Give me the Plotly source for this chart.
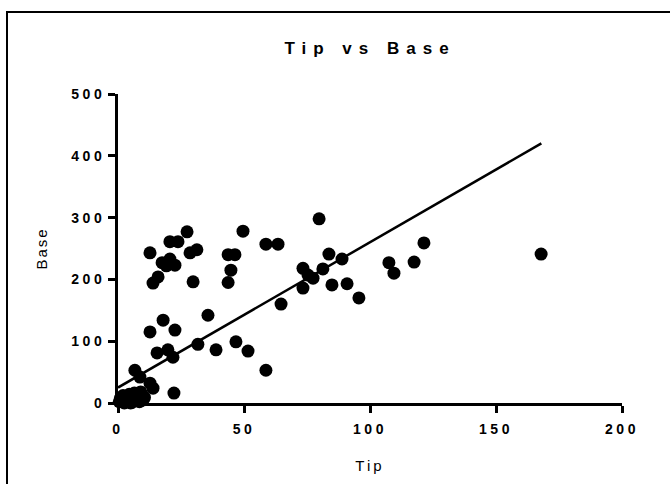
import plotly.graph_objects as go

# Data (Tip vs Base)
tip = [
    27.4, 20.6, 23.8, 12.7, 31.3, 28.6, 17.5, 20.6, 22.6, 19.2, 13.9, 15.9, 29.8,
    17.9, 12.7, 22.6, 35.7, 15.5, 19.8, 21.8, 31.7, 38.9, 46.8, 51.6, 58.7,
    6.7, 8.7, 12.7, 13.9, 22.2,
    49.6, 58.7, 63.5, 43.7, 46.4, 44.8, 43.7, 79.8, 83.7, 88.9, 73.4, 75.4, 77.4,
    81.3, 73.4, 84.9, 90.9, 95.6, 64.7, 107.5, 109.5, 117.5, 121.4, 167.9,
    0.5, 1.5, 2.5, 3.0, 4.0, 4.5, 5.5, 6.0, 7.0, 7.5, 8.5, 9.0, 2.0, 5.0, 3.5, 8.0, 10.0,
    9.5, 10.5, 1.0, 6.5,
]
base = [
    277, 261, 261, 243, 248, 243, 227, 233, 223, 222, 194, 204, 196,
    134, 115, 118, 142, 81, 86, 74, 95, 86, 99, 84, 53,
    53, 42, 32, 24, 16,
    278, 257, 257, 240, 240, 215, 195, 298, 241, 233, 218, 207, 202,
    217, 186, 191, 193, 170, 160, 227, 210, 228, 259, 241,
    2, 6, 0, 10, 3, 14, 1, 8, 4, 12, 2, 18, 12, 0, 6, 9, 5,
    14, 9, 8, 16,
]

fit_x = [0, 168]
fit_y = [25, 420]

x_ticks = [0, 50, 100, 150, 200]
x_labels = ["0", "50", "100", "150", "200"]
y_ticks = [0, 100, 200, 300, 400, 500]
y_labels = ["0", "100", "200", "300", "400", "500"]

title_text = "Tip vs Base"
x_title = "Tip"
y_title = "Base"


def spaced(s, ls):
    return f"<span style='letter-spacing:{ls}px'>{s}</span>"


FONT = "Liberation Sans, Arial, sans-serif"
tickfont = dict(family=FONT, size=14, color="black", weight="bold")

fig = go.Figure()
fig.add_trace(go.Scatter(
    x=tip, y=base, mode="markers",
    marker=dict(size=13, color="black", line=dict(width=0)),
    cliponaxis=False, showlegend=False,
))
fig.add_trace(go.Scatter(
    x=fit_x, y=fit_y, mode="lines",
    line=dict(color="black", width=2.5),
    cliponaxis=False, showlegend=False,
))

fig.update_layout(
    width=670, height=484,
    margin=dict(l=118, r=48, t=94, b=81),
    paper_bgcolor="white", plot_bgcolor="white",
    title=dict(text=spaced(title_text, 7), x=0.5, xanchor="center",
               xref="paper", y=1 - 48 / 484, yanchor="middle",
               font=dict(family=FONT, size=17, color="black", weight="bold")),
    font=dict(family=FONT, color="black"),
    xaxis=dict(range=[0, 200], tickvals=x_ticks,
               ticktext=[spaced(t, 3.5) for t in x_labels],
               showgrid=False, zeroline=False,
               showline=True, linecolor="black", linewidth=3,
               ticks="outside", ticklen=7, tickwidth=3, tickcolor="black",
               tickfont=tickfont, ticklabelstandoff=4,
               title=dict(text=spaced(x_title, 3), font=dict(size=15, color="black"), standoff=25)),
    yaxis=dict(range=[0, 500], tickvals=y_ticks,
               ticktext=[spaced(t, 3.5) for t in y_labels],
               showgrid=False, zeroline=False,
               showline=True, linecolor="black", linewidth=3,
               ticks="outside", ticklen=7, tickwidth=3, tickcolor="black",
               tickfont=tickfont,
               title=dict(text=spaced(y_title, 2), font=dict(size=15, color="black"), standoff=21)),
    shapes=[dict(type="rect", xref="paper", yref="paper",
                 x0=(7 - 118) / 504, x1=(690 - 118) / 504,
                 y0=(403 - 500) / 309, y1=(403 - 12) / 309,
                 line=dict(color="black", width=2), fillcolor="rgba(0,0,0,0)",
                 layer="below")],
)

fig.write_html("out.html", config={"displayModeBar": False},
               post_script="document.body.style.margin='0';document.body.style.overflow='hidden';")
